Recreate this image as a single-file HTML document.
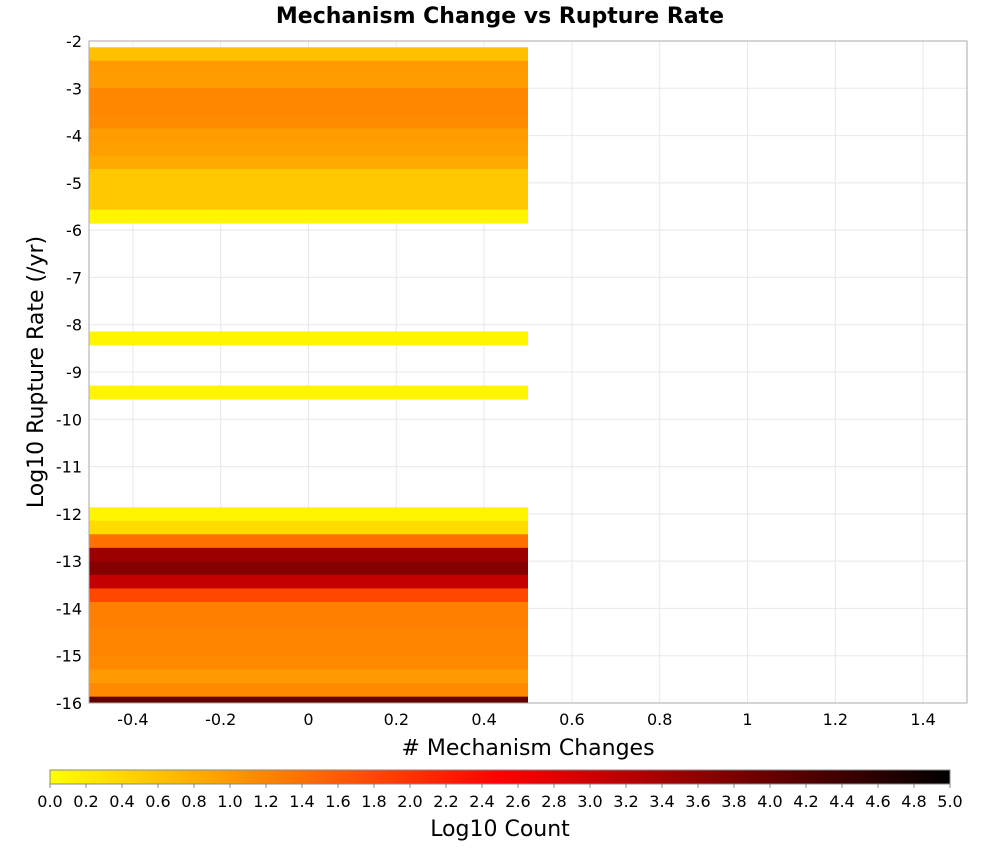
<!DOCTYPE html>
<html><head><meta charset="utf-8"><style>
body{margin:0;background:#fff;font-family:"Liberation Sans","DejaVu Sans",sans-serif}
svg text{font-family:"DejaVu Sans","Liberation Sans",sans-serif}
</style></head><body>
<svg id="c" width="1000" height="850" xmlns="http://www.w3.org/2000/svg">
<defs><linearGradient id="cb" x1="0" x2="1" y1="0" y2="0">
<stop offset="0" stop-color="#ffff00"/><stop offset="0.5" stop-color="#ff0000"/><stop offset="1" stop-color="#000000"/></linearGradient></defs>
<text x="500" y="23" text-anchor="middle" font-size="22" font-weight="bold">Mechanism Change vs Rupture Rate</text>
<g id="grid"></g><g id="cells"></g>
<rect x="89" y="41" width="878" height="662" fill="none" stroke="#aaa"/>
<g id="axes"></g>
<text x="528" y="755" text-anchor="middle" font-size="22"># Mechanism Changes</text>
<text transform="translate(43,372) rotate(-90)" text-anchor="middle" font-size="22">Log10 Rupture Rate (/yr)</text>
<rect x="50" y="770" width="900" height="14" fill="url(#cb)" stroke="#888"/>
<g id="cbt"></g>
<text x="500" y="836" text-anchor="middle" font-size="22">Log10 Count</text>
</svg>
<script>
const rowIndex=[0,1,2,3,4,5,6,7,8,9,10,11,12,21,25,34,35,36,37,38,39,40,41,42,43,44,45,46,47,48];
const rowValue=[0.62,0.99,0.97,1.17,1.17,1.13,0.97,0.93,0.83,0.54,0.54,0.54,0.1,0.1,0.1,0.1,0.35,1.4,3.47,3.7,3.08,1.8,1.25,1.25,1.2,1.2,1.15,0.98,1.15,4.06];
const binTop=-2.133, binH=0.2861, xMin=-0.5, xMax=0.5;
const xTicks=[-0.4,-0.2,0,0.2,0.4,0.6,0.8,1,1.2,1.4];
const yTicks=[-2,-3,-4,-5,-6,-7,-8,-9,-10,-11,-12,-13,-14,-15,-16];
const cbTicks=[0,0.2,0.4,0.6,0.8,1,1.2,1.4,1.6,1.8,2,2.2,2.4,2.6,2.8,3,3.2,3.4,3.6,3.8,4,4.2,4.4,4.6,4.8,5];
const NS="http://www.w3.org/2000/svg";
const X=v=>89+(v+0.5)*439, Y=v=>41+(-2-v)*47.2857, C=v=>50+v*180;
function col(v){let r,g,b=0;if(v<=2.5){r=255;g=255*(1-v/2.5);}else{r=255*(1-(v-2.5)/2.5);g=0;}return `rgb(${Math.round(r)},${Math.round(g)},0)`;}
function mk(t,a,p){const e=document.createElementNS(NS,t);for(const k in a)e.setAttribute(k,a[k]);p.appendChild(e);return e;}
const grid=document.getElementById('grid'),cells=document.getElementById('cells'),axes=document.getElementById('axes'),cbt=document.getElementById('cbt');
xTicks.forEach(t=>{const l=mk('line',{x1:X(t),x2:X(t),y1:41,y2:703,stroke:'#e8e8e8'},grid);


const s=mk('text',{x:X(t),y:725,'text-anchor':'middle','font-size':16},axes);s.textContent=String(t);

});
yTicks.forEach(t=>{const l=mk('line',{x1:89,x2:967,y1:Y(t),y2:Y(t),stroke:'#e8e8e8'},grid);


const s=mk('text',{x:82,y:Y(t)+6,'text-anchor':'end','font-size':16},axes);s.textContent=String(t);

});
rowIndex.forEach((k,i)=>{const top=binTop-k*binH,bot=Math.max(top-binH,-16);
const r=mk('rect',{x:X(xMin),y:Y(top),width:X(xMax)-X(xMin),height:Y(bot)-Y(top)+0.5,fill:col(rowValue[i])},cells);

});
cbTicks.forEach(t=>{const l=mk('line',{x1:C(t),x2:C(t),y1:784,y2:788,stroke:'#888'},cbt);


const s=mk('text',{x:C(t),y:807,'text-anchor':'middle','font-size':16},cbt);s.textContent=t.toFixed(1);

});
</script>
</body></html>
